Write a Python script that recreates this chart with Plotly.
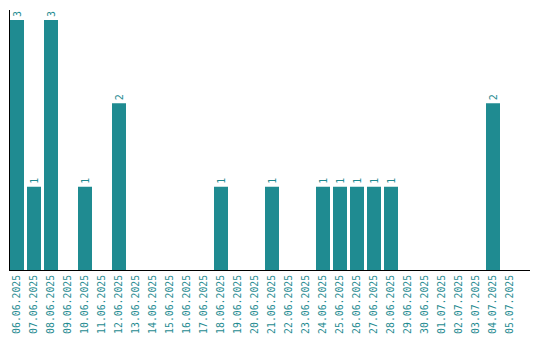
import plotly.graph_objects as go

dates = ["06.06.2025","07.06.2025","08.06.2025","09.06.2025","10.06.2025","11.06.2025",
         "12.06.2025","13.06.2025","14.06.2025","15.06.2025","16.06.2025","17.06.2025",
         "18.06.2025","19.06.2025","20.06.2025","21.06.2025","22.06.2025","23.06.2025",
         "24.06.2025","25.06.2025","26.06.2025","27.06.2025","28.06.2025","29.06.2025",
         "30.06.2025","01.07.2025","02.07.2025","03.07.2025","04.07.2025","05.07.2025"]
counts = [3,1,3,0,1,0,2,0,0,0,0,0,1,0,0,1,0,0,1,1,1,1,1,0,0,0,0,0,2,0]

teal = "#1f8b91"
labels = [str(v) if v else "" for v in counts]

fig = go.Figure(go.Bar(
    x=list(range(len(dates))), y=counts, width=14/17,
    marker=dict(color=teal, line=dict(width=0)),
    text=labels, textposition="outside", textangle=-90,
    textfont=dict(color=teal, size=10, family="DejaVu Sans Mono"),
    cliponaxis=False,
))
fig.update_layout(
    width=540, height=340,
    margin=dict(l=2, r=18, t=2, b=78, autoexpand=False),
    paper_bgcolor="white", plot_bgcolor="white",
    showlegend=False,
    xaxis=dict(range=[-7/17, 513/17], tickmode="array", tickvals=list(range(len(dates))),
               ticktext=dates, tickangle=-90, showgrid=False, zeroline=False,
               showline=True, linecolor="black", linewidth=1, ticks="", automargin=False,
               ticklabelstandoff=0,
               tickfont=dict(color=teal, size=9.8, family="DejaVu Sans Mono")),
    yaxis=dict(range=[0, 3.12], showgrid=False, zeroline=False, showticklabels=False,
               automargin=False,
               showline=True, linecolor="black", linewidth=1, ticks=""),
)
fig.write_html("out.html")
